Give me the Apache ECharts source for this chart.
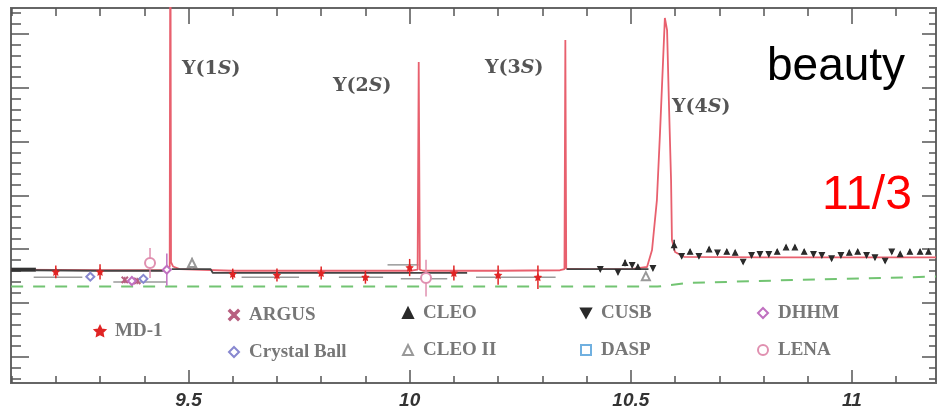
<!DOCTYPE html>
<html>
<head>
<meta charset="utf-8">
<script src="https://cdn.jsdelivr.net/npm/echarts@6.0.0/dist/echarts.min.js"></script>
<style>
html,body{margin:0;padding:0;background:#ffffff;}
#chart{width:945px;height:410px;}
</style>
</head>
<body>
<div id="chart"></div>
<script>
// ---------------- data ----------------
const xMajorTicks = [9.5, 10, 10.5, 11];
const xMinorTicks = [9.1, 9.2, 9.3, 9.4, 9.6, 9.7, 9.8, 9.9, 10.1, 10.2, 10.3, 10.4, 10.6, 10.7, 10.8, 10.9, 11.1];
const yMajorTicks = [2.5, 3.0, 3.5, 4.0, 4.5, 5.0, 5.5];
const yMinorTicks = [2.3, 2.4, 2.6, 2.7, 2.8, 2.9, 3.1, 3.2, 3.3, 3.4, 3.6, 3.7, 3.8, 3.9, 4.1, 4.2, 4.3, 4.4, 4.6, 4.7, 4.8, 4.9, 5.1, 5.2, 5.3, 5.4, 5.6, 5.7];
const resonanceNames = ['1S', '2S', '3S', '4S'];

// fitted R curve (pink-red) with the four Upsilon resonances
const fitCurve = [
  [9.099, 3.31], [9.30, 3.305], [9.44, 3.305], [9.455, 3.32], [9.4575, 3.34], [9.459, 7.0], [9.4605, 3.38],
  [9.465, 3.34], [9.48, 3.315], [9.60, 3.30], [9.80, 3.30], [10.00, 3.30], [10.018, 3.31], [10.0205, 5.24],
  [10.023, 3.31], [10.03, 3.30], [10.20, 3.30], [10.34, 3.305], [10.350, 3.315], [10.352, 5.444], [10.354, 3.32],
  [10.40, 3.316], [10.50, 3.316], [10.5367, 3.335], [10.548, 3.493], [10.559, 3.957], [10.566, 4.58],
  [10.573, 5.258], [10.577, 5.649], [10.582, 5.537], [10.586, 4.887], [10.591, 4.143], [10.593, 3.585],
  [10.600, 3.474], [10.62, 3.43], [10.80, 3.425], [11.19, 3.425]
];
// perturbative QCD expectation (green dashed)
const pqcdCurve = [[9.099, 3.153], [10.56, 3.153], [10.627, 3.186], [10.867, 3.214], [11.19, 3.246]];
// dense scan data drawn as dark lines
const scanThick = [[9.099, 3.31], [9.155, 3.31]];
const scanLine1 = [[9.155, 3.305], [9.30, 3.30], [9.44, 3.30], [9.458, 3.31]];
const scanLine2 = [[9.462, 3.315], [9.55, 3.315], [9.555, 3.28], [9.70, 3.28], [9.90, 3.28], [10.13, 3.28]];
const scanLine3 = [[10.355, 3.316], [10.45, 3.316], [10.54, 3.316]];

// MD-1
const md1Energy = [9.20, 9.30, 9.60, 9.70, 9.80, 9.90, 10.00, 10.10, 10.20, 10.29];
const md1R      = [3.29, 3.29, 3.27, 3.26, 3.28, 3.24, 3.33, 3.28, 3.26, 3.24];
const md1Err    = [0.06, 0.07, 0.05, 0.06, 0.06, 0.06, 0.08, 0.07, 0.09, 0.11];
// [energy, R, error]
const argusPts       = [[9.356, 3.215, 0.03], [9.384, 3.205, 0.03]];
const crystalBallPts = [[9.278, 3.245, 0.03], [9.398, 3.225, 0.03]];
const dhhmPts        = [[9.372, 3.205, 0.04], [9.451, 3.31, 0.15]];
const lenaPts        = [[9.413, 3.372, 0.14], [10.037, 3.232, 0.17]];
const cleo2Pts       = [[9.508, 3.372, 0.05], [10.534, 3.25, 0.02]];
const daspPts        = [];
const cleoPts = [
  [10.487, 3.372, 0.03], [10.516, 3.335, 0.02], [10.598, 3.539, 0.05], [10.634, 3.477, 0.02], [10.677, 3.499, 0.02],
  [10.717, 3.477, 0.02], [10.736, 3.468, 0.02], [10.831, 3.477, 0.02], [10.851, 3.518, 0.02], [10.871, 3.518, 0.02],
  [10.892, 3.477, 0.02], [10.994, 3.468, 0.02], [11.013, 3.477, 0.02], [11.109, 3.455, 0.02], [11.131, 3.477, 0.02],
  [11.154, 3.477, 0.02], [11.173, 3.477, 0.02]
];
const cusbPts = [
  [10.431, 3.316, 0.02], [10.471, 3.288, 0.02], [10.503, 3.353, 0.02], [10.550, 3.325, 0.02], [10.615, 3.437, 0.02],
  [10.654, 3.437, 0.02], [10.696, 3.468, 0.02], [10.754, 3.384, 0.02], [10.773, 3.446, 0.02], [10.792, 3.455, 0.02],
  [10.812, 3.455, 0.02], [10.913, 3.455, 0.02], [10.932, 3.446, 0.02], [10.954, 3.415, 0.02], [10.975, 3.446, 0.02],
  [11.033, 3.446, 0.02], [11.052, 3.424, 0.02], [11.075, 3.393, 0.02], [11.090, 3.477, 0.02]
];
// horizontal bin-width bars [from, to, R]
const binBars = [[9.15, 9.26, 3.24], [9.33, 9.45, 3.195], [9.62, 9.75, 3.24], [9.84, 9.94, 3.24],
                 [9.95, 10.02, 3.355], [9.98, 10.085, 3.225], [10.15, 10.33, 3.24]];

// ---------------- styling ----------------
const E_MIN = 9.0987, E_MAX = 11.19, R_MIN = 2.257, R_MAX = 5.742;
const SYM = {
  star: 'path://M0,-10L2.9,-4L9.5,-3.1L4.8,1.5L5.9,8.1L0,5L-5.9,8.1L-4.8,1.5L-9.5,-3.1L-2.9,-4Z',
  cross: 'path://M1,0L5,4L9,0L10,1L6,5L10,9L9,10L5,6L1,10L0,9L4,5L0,1Z',
  down: 'path://M0,0L10,0L5,9Z'
};
const experiments = [
  {name: 'MD-1', pts: md1Energy.map((e, i) => [e, md1R[i], md1Err[i]]), symbol: SYM.star, color: '#e02424', size: 6, cx: 99, cy: 331},
  {name: 'ARGUS', pts: argusPts, symbol: SYM.cross, color: '#b86080', size: 6, cx: 233, cy: 315},
  {name: 'Crystal Ball', pts: crystalBallPts, symbol: 'emptyDiamond', color: '#8888d0', size: 8, cx: 233, cy: 352},
  {name: 'CLEO', pts: cleoPts, symbol: 'triangle', color: '#2a2a2a', size: 5, cx: 407, cy: 313},
  {name: 'CLEO II', pts: cleo2Pts, symbol: 'emptyTriangle', color: '#999999', size: 8, cx: 407, cy: 350},
  {name: 'CUSB', pts: cusbPts, symbol: SYM.down, color: '#2a2a2a', size: 5, cx: 585, cy: 313},
  {name: 'DASP', pts: daspPts, symbol: 'emptyRect', color: '#70b0e0', size: 8, cx: 585, cy: 350},
  {name: 'DHHM', pts: dhhmPts, symbol: 'emptyDiamond', color: '#c070c0', size: 8, cx: 762, cy: 313},
  {name: 'LENA', pts: lenaPts, symbol: 'emptyCircle', color: '#e090b0', size: 10, cx: 762, cy: 350}
];

function vBar(color, width) {
  return function (params, api) {
    const a = api.coord([api.value(0), api.value(1)]);
    const b = api.coord([api.value(0), api.value(2)]);
    return {type: 'line', shape: {x1: a[0], y1: a[1], x2: b[0], y2: b[1]}, style: {stroke: color, lineWidth: width}};
  };
}
function hBar(color, width) {
  return function (params, api) {
    const a = api.coord([api.value(0), api.value(2)]);
    const b = api.coord([api.value(1), api.value(2)]);
    return {type: 'line', shape: {x1: a[0], y1: a[1], x2: b[0], y2: b[1]}, style: {stroke: color, lineWidth: width}};
  };
}

const tickColor = '#555';
function xAx(pos, ticks, len, withLabels) {
  return {
    type: 'value', min: E_MIN, max: E_MAX, position: pos, gridIndex: 0,
    axisLine: {show: false}, splitLine: {show: false},
    axisTick: {show: true, inside: true, length: len, customValues: ticks, lineStyle: {color: tickColor, width: 1.5}},
    axisLabel: withLabels ? {show: true, customValues: ticks, margin: 8, fontFamily: 'Liberation Sans', fontStyle: 'italic', fontWeight: 'bold', fontSize: 19, color: '#333'} : {show: false}
  };
}
function yAx(pos, ticks, len) {
  return {
    type: 'value', min: R_MIN, max: R_MAX, position: pos, gridIndex: 0,
    axisLine: {show: false}, splitLine: {show: false}, axisLabel: {show: false},
    axisTick: {show: true, inside: true, length: len, customValues: ticks, lineStyle: {color: tickColor, width: 1.5}}
  };
}

const series = [
  {type: 'line', name: 'pQCD', data: pqcdCurve, symbol: 'none', z: 2,
   lineStyle: {color: '#72c472', width: 2, type: [12, 10]}},
  {type: 'line', name: 'fit', data: fitCurve, symbol: 'none', z: 3, clip: true,
   lineStyle: {color: '#e8606e', width: 1.8}},
  {type: 'line', name: 'scan0', data: scanThick, symbol: 'none', z: 4, lineStyle: {color: '#333', width: 4}},
  {type: 'line', name: 'scan1', data: scanLine1, symbol: 'none', z: 4, lineStyle: {color: '#444', width: 1.8}},
  {type: 'line', name: 'scan2', data: scanLine2, symbol: 'none', z: 4, lineStyle: {color: '#444', width: 1.8}},
  {type: 'line', name: 'scan3', data: scanLine3, symbol: 'none', z: 4, lineStyle: {color: '#444', width: 1.8}},
  {type: 'custom', name: 'bins', data: binBars, renderItem: hBar('#9a9a9a', 1.5), z: 3}
];
experiments.forEach(ex => {
  series.push({type: 'custom', name: ex.name + ' err', z: 5,
    data: ex.pts.map(p => [p[0], p[1] - p[2], p[1] + p[2]]),
    renderItem: vBar(ex.color, 1.5)});
  series.push({type: 'scatter', name: ex.name, z: 6, data: ex.pts.map(p => [p[0], p[1]]),
    symbol: ex.symbol, symbolSize: ex.size,
    itemStyle: {color: ex.color, borderColor: ex.color, borderWidth: 1.2, opacity: 1}});
});

const legends = experiments.map(ex => ({
  data: [ex.name], left: ex.cx - 5, top: ex.cy - 11, padding: 0, itemGap: 0,
  itemWidth: 10, itemHeight: 10, selectedMode: false,
  textStyle: {fontFamily: 'Liberation Serif', fontWeight: 'bold', fontSize: 19, lineHeight: 22, color: '#777', padding: [0, 0, 0, 5]}
}));

const resonancePos = [[182, 69], [333, 86], [485, 68], [672, 107]];
const graphics = resonanceNames.map((n, i) => ({
  type: 'text', x: resonancePos[i][0], y: resonancePos[i][1], z: 20,
  style: {
    text: '{b|\u03A5(' + n.charAt(0) + '}{i|' + n.charAt(1) + '}{b|)}',
    verticalAlign: 'middle', align: 'left',
    rich: {
      b: {fontFamily: 'DejaVu Serif', fontWeight: 'bold', fontSize: 19, fill: '#555', color: '#555'},
      i: {fontFamily: 'DejaVu Serif', fontWeight: 'bold', fontStyle: 'italic', fontSize: 19, fill: '#555', color: '#555'}
    }
  }
}));
graphics.push({type: 'text', x: 767, y: 67, z: 20,
  style: {text: 'beauty', font: '46px "Liberation Sans"', fill: '#000', verticalAlign: 'middle', align: 'left'}});
graphics.push({type: 'text', x: 822, y: 196, z: 20,
  style: {text: '11/3', font: '48px "Liberation Sans"', fill: '#ff0000', verticalAlign: 'middle', align: 'left'}});

const chart = echarts.init(document.getElementById('chart'), null, {renderer: 'canvas'});
chart.setOption({
  animation: false,
  backgroundColor: '#ffffff',
  grid: {left: 11, right: 9, top: 8, bottom: 27, show: true, borderColor: '#666', borderWidth: 2, backgroundColor: 'transparent'},
  xAxis: [xAx('bottom', xMajorTicks, 13, true), xAx('bottom', xMinorTicks, 7, false),
          xAx('top', xMajorTicks, 16, false), xAx('top', xMinorTicks, 8, false)],
  yAxis: [yAx('left', yMajorTicks, 18), yAx('left', yMinorTicks, 10),
          yAx('right', yMajorTicks, 14), yAx('right', yMinorTicks, 7)],
  legend: legends,
  series: series,
  graphic: graphics
});
</script>
</body>
</html>
